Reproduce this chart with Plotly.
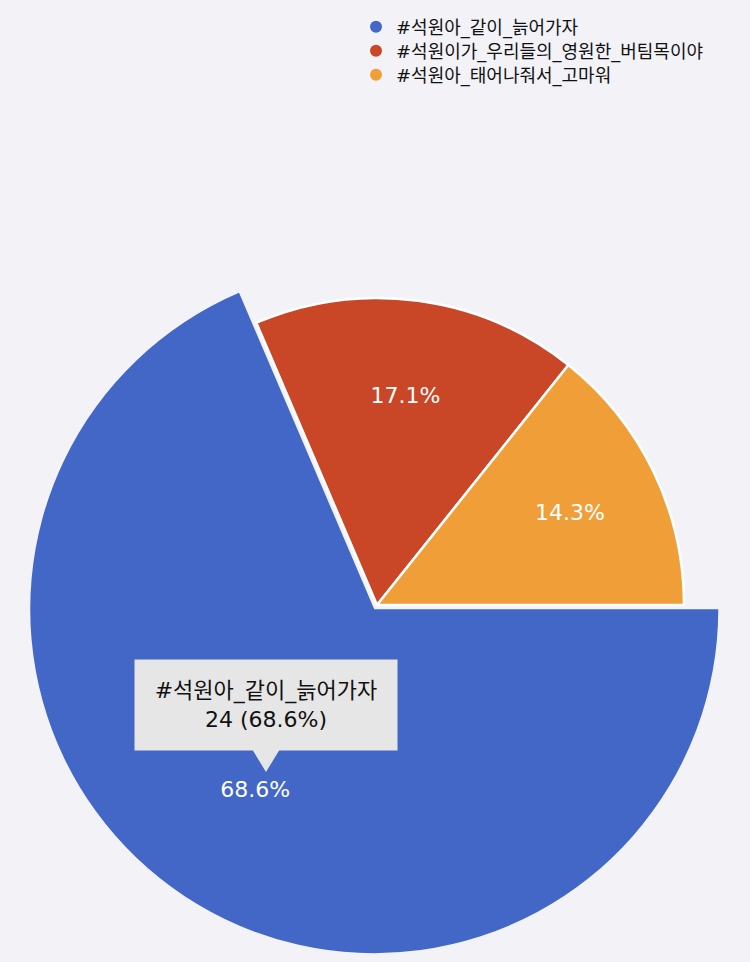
import plotly.graph_objects as go

labels = ["#석원아_같이_늙어가자", "#석원이가_우리들의_영원한_버팀목이야", "#석원아_태어나줘서_고마워"]
values = [24, 6, 5]
colors = ["#4267c7", "#c94626", "#f09e38"]

W, H = 750, 962
BG = "#f2f2f7"
FONT = "DejaVu Sans, Noto Sans CJK KR, sans-serif"
TRANSP = "rgba(0,0,0,0)"


def px(x):
    return x / W


def py(y):
    return 1 - y / H


big_dom = dict(x=[px(28), px(726)], y=[py(954), py(256)])
small_dom = dict(x=[px(70), px(684)], y=[py(912), py(298)])
PULL = [0.0145, 0, 0]

common = dict(labels=labels, values=values, sort=False, direction="clockwise", rotation=90,
              showlegend=False, hoverinfo="skip", textposition="inside",
              insidetextorientation="horizontal",
              insidetextfont=dict(color="white", size=22, family=FONT))

fig = go.Figure()

# enlarged, pulled-out highlighted slice
fig.add_trace(go.Pie(
    **common, marker=dict(colors=[colors[0], TRANSP, TRANSP], line=dict(width=0)),
    pull=PULL, texttemplate=["", "", ""], domain=big_dom,
))
# its label (ring trace only used for label placement)
fig.add_trace(go.Pie(
    **common, marker=dict(colors=[TRANSP] * 3, line=dict(width=0)),
    pull=PULL, hole=0.256, texttemplate=["%{percent}", "", ""], domain=big_dom,
))
# the regular slices
fig.add_trace(go.Pie(
    **common,
    marker=dict(colors=[TRANSP, colors[1], colors[2]],
                line=dict(color=[TRANSP, "white", "white"], width=[0, 2.5, 2.5])),
    texttemplate=["", "", ""], domain=small_dom,
))
fig.add_trace(go.Pie(
    **common, marker=dict(colors=[TRANSP] * 3, line=dict(width=0)),
    hole=0.38, texttemplate=["", "%{percent}", "%{percent}"], domain=small_dom,
))

# legend entries with round markers, one legend per row
legend_rows = [27, 51, 75]
for i, (lab, col) in enumerate(zip(labels, colors)):
    lg = "legend" if i == 0 else f"legend{i + 1}"
    fig.add_trace(go.Scatter(x=[None], y=[None], mode="markers", name=lab, legend=lg,
                             marker=dict(color=col, size=15, symbol="circle")))

legend_style = dict(x=px(356), xanchor="left", yanchor="middle", bgcolor="rgba(0,0,0,0)",
                    font=dict(size=18, family=FONT, color="#111111"), itemsizing="constant")

total = sum(values)
tip_text = f"{labels[0]}<br>{values[0]} ({values[0] / total * 100:.1f}%)"
fig.add_annotation(
    x=px(266), y=py(705), xref="paper", yref="paper", text=tip_text,
    showarrow=False, xanchor="center", yanchor="middle",
    width=260, height=88, bgcolor="#e6e6e6", align="center",
    font=dict(size=22, color="#111111", family=FONT),
)
fig.add_shape(
    type="path", xref="paper", yref="paper",
    path=f"M {px(252)} {py(749)} L {px(280)} {py(749)} L {px(266)} {py(772)} Z",
    fillcolor="#e6e6e6", line=dict(width=0),
)

fig.update_layout(
    width=W, height=H, autosize=False,
    margin=dict(l=0, r=0, t=0, b=0),
    paper_bgcolor=BG, plot_bgcolor=BG,
    font=dict(family=FONT, color="#111111"),
    xaxis=dict(visible=False), yaxis=dict(visible=False),
    legend=dict(**legend_style, y=py(legend_rows[0])),
    legend2=dict(**legend_style, y=py(legend_rows[1])),
    legend3=dict(**legend_style, y=py(legend_rows[2])),
)

fig.write_html("out.html", config={"displayModeBar": False},
               post_script="document.body.style.margin='0';document.body.style.background='#f2f2f7';")
